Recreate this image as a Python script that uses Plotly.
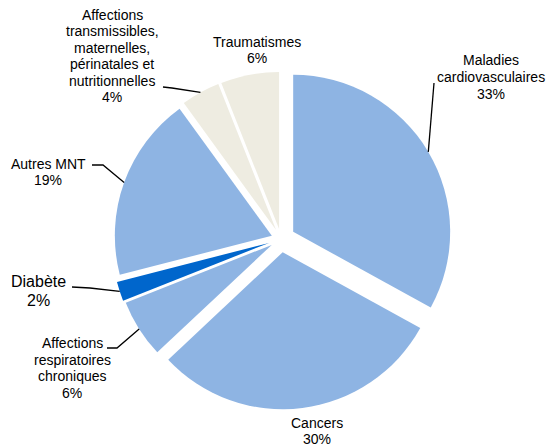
import math
import plotly.graph_objects as go

# ---- data ----
categories = [
    "Maladies cardiovasculaires",
    "Cancers",
    "Affections respiratoires chroniques",
    "Diabète",
    "Autres MNT",
    "Affections transmissibles, maternelles, périnatales et nutritionnelles",
    "Traumatismes",
]
values = [33, 30, 6, 2, 19, 4, 6]
display_names = [
    "Maladies<br>cardiovasculaires",
    "Cancers",
    "Affections<br>respiratoires<br>chroniques",
    "Diabète",
    "Autres MNT",
    "Affections<br>transmissibles,<br>maternelles,<br>périnatales et<br>nutritionnelles",
    "Traumatismes",
]

# ---- style / layout ----
W, H = 548, 446
colors = ["#8EB4E3", "#8EB4E3", "#8EB4E3", "#0066CC", "#8EB4E3", "#EEECE1", "#EEECE1"]
pulls = [0.09, 0.085, 0.07, 0.08, 0.062, 0.065, 0.065]
CX, CY, R = 281, 239, 157  # pixel centre and radius of the pie
half = R * (1 + max(pulls))
dom_x = [(CX - half) / W, (CX + half) / W]
dom_y = [1 - (CY + half) / H, 1 - (CY - half) / H]

# label block centre (px), font size, leader path points (px) from label side
label_pos = [(491, 77), (317, 431), (72, 368), (38, 291), (48, 172), (112, 56), (257, 50)]
label_size = [14, 14, 14, 16, 14, 14, 14]
LINE_H = 1.18
leaders = [
    [(434, 83)],
    None,
    [(107, 348), (117, 348)],
    [(72, 287), (90, 288)],
    [(92, 165), (103, 165)],
    [(163, 87), (172, 88)],
    None,
]
FONT = "Arial, Liberation Sans, sans-serif"


def paper(x, y):
    return x / W, 1 - y / H


fig = go.Figure(
    go.Pie(
        labels=categories,
        values=values,
        sort=False,
        direction="clockwise",
        rotation=0,
        pull=pulls,
        marker=dict(colors=colors, line=dict(width=0)),
        textinfo="none",
        hoverinfo="label+percent",
        showlegend=False,
        domain=dict(x=dom_x, y=dom_y),
    )
)

total = sum(values)
cum = 0
annotations = []
shapes = []
for i, v in enumerate(values):
    mid = (cum + v / 2) / total * 2 * math.pi
    cum += v
    pct = round(v / total * 100)
    lines = display_names[i].split("<br>") + [f"{pct}%"]
    lx, ly = label_pos[i]
    step = label_size[i] * LINE_H
    y0 = ly - step * (len(lines) - 1) / 2
    for k, t in enumerate(lines):
        px, py = paper(lx, y0 + k * step)
        annotations.append(
            dict(
                x=px, y=py, xref="paper", yref="paper",
                text=t,
                showarrow=False, xanchor="center", yanchor="middle", align="center",
                font=dict(family=FONT, size=label_size[i], color="#000000"),
            )
        )
    if leaders[i]:
        rr = R * (1 + pulls[i])
        tip = (CX + rr * math.sin(mid), CY - rr * math.cos(mid))
        pts = leaders[i] + [tip]
        path = ""
        for j, (x, y) in enumerate(pts):
            qx, qy = paper(x, y)
            path += ("M" if j == 0 else " L") + f" {qx:.5f} {qy:.5f}"
        shapes.append(
            dict(type="path", path=path, xref="paper", yref="paper",
                 line=dict(color="#000000", width=1.3))
        )

fig.update_layout(
    width=W, height=H,
    margin=dict(l=0, r=0, t=0, b=0),
    paper_bgcolor="#FFFFFF",
    plot_bgcolor="#FFFFFF",
    annotations=annotations,
    shapes=shapes,
    font=dict(family=FONT),
)

fig.write_html(
    "out.html",
    config={"displayModeBar": False},
    post_script="document.body.style.margin='0';document.body.style.overflow='hidden';",
)
